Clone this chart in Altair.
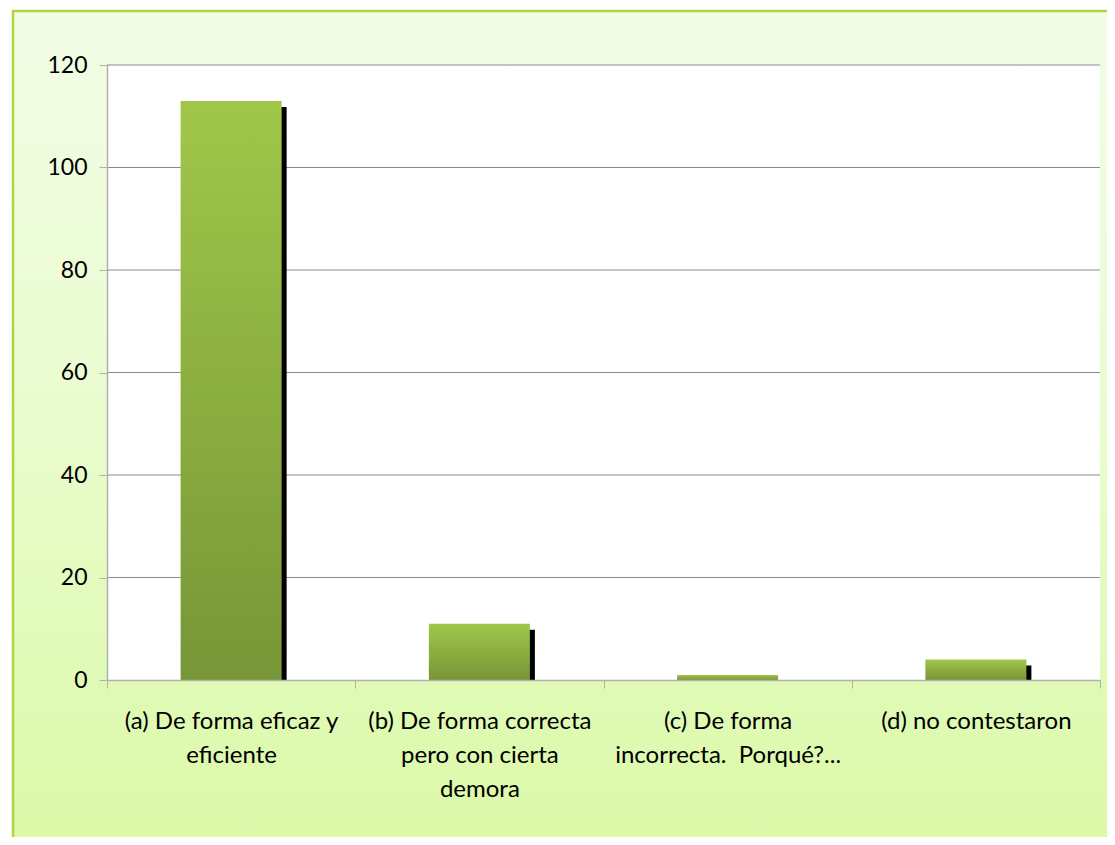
import altair as alt
import pandas as pd

categories = [
    "(a) De forma eficaz y\neficiente",
    "(b) De forma correcta\npero con cierta\ndemora",
    "(c) De forma\nincorrecta.\u00a0 Porqué?...",
    "(d) no contestaron",
]
values = [113, 11, 1, 4]
y_ticks = [0, 20, 40, 60, 80, 100, 120]

W, H = 993, 615
FONT = "Lato"

df = pd.DataFrame({"cat": categories, "val": values})
grid_df = pd.DataFrame({"t": y_ticks[1:]})
one = pd.DataFrame({"k": [0]})

xscale = alt.Scale(domain=categories, paddingInner=0, paddingOuter=0)
yscale = alt.Scale(domain=[0, 120], nice=False)
BAR_W = alt.RelativeBandSize(0.407)

bg = alt.Chart(one).mark_rect(
    color=alt.Gradient(
        gradient="linear", x1=0, x2=0, y1=0, y2=1,
        stops=[alt.GradientStop(color="#f2fde6", offset=0),
               alt.GradientStop(color="#eafccf", offset=0.45),
               alt.GradientStop(color="#d9f9a4", offset=1)],
    ),
    stroke="#aed63c", strokeWidth=2.5,
).encode(x=alt.value(-94), x2=alt.value(W + 40), y=alt.value(-54), y2=alt.value(H + 200))

plot_bg = alt.Chart(one).mark_rect(color="white").encode(
    x=alt.value(0), x2=alt.value(W), y=alt.value(0), y2=alt.value(H)
)

xaxis = alt.Axis(
    title=None, labelAngle=0, tickBand="extent", labelExpr="split(datum.label, '\\n')",
    labelFont=FONT, labelFontSize=24, labelColor="black", labelBaseline="top",
    labelPadding=21, labelLineHeight=34, labelLimit=400,
    domainColor="#b0b0b0", domainWidth=1.5, tickColor="#b0b0b0", tickSize=8, grid=False,
    zindex=1,
)
yaxis = alt.Axis(
    title=None, values=y_ticks, labelFont=FONT, labelFontSize=23, labelColor="black",
    labelPadding=12, domainColor="#b0b0b0", domainWidth=1.5, tickColor="#b0b0b0",
    tickSize=8, grid=False, zindex=1,
)

grid = alt.Chart(grid_df).mark_rule(color="#8a8a8a", strokeWidth=1).encode(
    y=alt.Y("t:Q", scale=yscale, axis=yaxis), x=alt.value(0), x2=alt.value(W)
)

shadow = alt.Chart(df).mark_bar(
    color="black", xOffset=5, yOffset=6, clip=True, width=BAR_W
).encode(
    x=alt.X("cat:N", scale=xscale, axis=xaxis, sort=categories),
    y=alt.Y("val:Q", scale=yscale, axis=yaxis),
)

bars = alt.Chart(df).mark_bar(
    width=BAR_W,
    color=alt.Gradient(
        gradient="linear", x1=0, x2=0, y1=0, y2=1,
        stops=[alt.GradientStop(color="#a0c74a", offset=0),
               alt.GradientStop(color="#779637", offset=1)],
    ),
).encode(
    x=alt.X("cat:N", scale=xscale, axis=xaxis, sort=categories),
    y=alt.Y("val:Q", scale=yscale, axis=yaxis),
)

chart = alt.layer(bg, plot_bg, grid, shadow, bars).properties(
    width=W, height=H,
    autosize=alt.AutoSizeParams(type="none"),
    padding={"left": 99, "top": 57, "right": 7, "bottom": 157},
).configure_view(stroke=None)

chart.save("out.html", embed_options={"renderer": "svg", "actions": False})
